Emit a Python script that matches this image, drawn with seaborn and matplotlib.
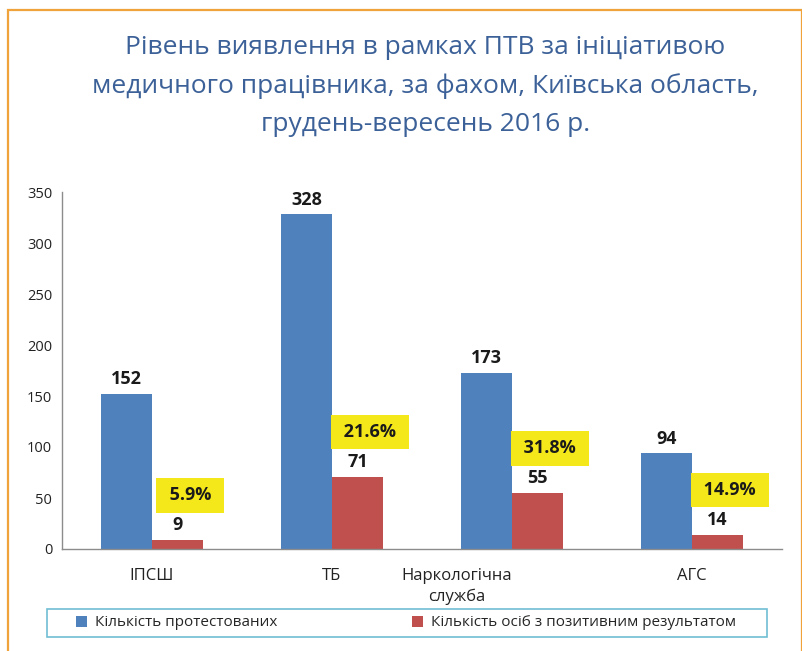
import matplotlib
matplotlib.use("Agg")
import matplotlib.pyplot as plt
import matplotlib.transforms as mtransforms
from matplotlib.patches import Rectangle
import pandas as pd
import seaborn as sns

# --- Data ---
categories = ["ІПСШ", "ТБ", "Наркологічна\nслужба", "АГС"]
tested = [152, 328, 173, 94]
positive = [9, 71, 55, 14]
series_names = ["Кількість протестованих", "Кількість осіб з позитивним результатом"]

TITLE = ("Рівень виявлення в рамках ПТВ за ініціативою\n"
         "медичного працівника, за фахом, Київська область,\n"
         "грудень-вересень 2016 р.")

BLUE = "#4f81bd"
RED = "#c0504d"
YELLOW = "#f5e81a"

sns.set_theme(style="white")
plt.rcParams["font.family"] = ["Open Sans", "DejaVu Sans"]

df = pd.DataFrame({
    "cat": categories * 2,
    "value": tested + positive,
    "series": [series_names[0]] * 4 + [series_names[1]] * 4,
})

fig = plt.figure(figsize=(8.03, 6.51), dpi=100)
ax = fig.add_axes([62 / 803, 1 - 549 / 651, 720 / 803, 357 / 651])

sns.barplot(data=df, x="cat", y="value", hue="series", order=categories,
            hue_order=series_names, palette=[BLUE, RED], width=0.567,
            gap=0, saturation=1, ax=ax, legend=True, edgecolor="none")

ax.set_xlim(-0.5, 3.5)
ax.set_ylim(0, 350)
ax.set_yticks(range(0, 351, 50))
ax.set_xlabel("")
ax.set_ylabel("")

for s in ["top", "right"]:
    ax.spines[s].set_visible(False)
for s in ["left", "bottom"]:
    ax.spines[s].set_color("#8c8c8c")
    ax.spines[s].set_linewidth(1.0)

ax.tick_params(axis="y", direction="out", length=4, color="#8c8c8c",
               labelsize=10.5, labelcolor="#222222", pad=3)
ax.tick_params(axis="x", which="major", length=0, labelsize=12,
               labelcolor="#222222", pad=14)
ax.set_xticks([i - 0.5 for i in range(len(categories) + 1)], minor=True)
ax.tick_params(axis="x", which="minor", direction="out", length=5,
               color="#8c8c8c")

# shift the wrapped label left like the original
lbl = ax.get_xticklabels()[2]
lbl.set_transform(lbl.get_transform() +
                  mtransforms.ScaledTranslation(-55 / 100, 0, fig.dpi_scale_trans))
lbl.set_linespacing(1.3)

for cont in ax.containers:
    ax.bar_label(cont, padding=4, fontsize=13, fontweight="bold",
                 color="#1a1a1a")

# percentage boxes above the red bars
red_bars = ax.containers[1]
for bar, t, p in zip(red_bars, tested, positive):
    x = bar.get_x() + bar.get_width() / 2
    ax.annotate(f" {p / t * 100:.1f}% ", xy=(x, p), xytext=(9, 32),
                textcoords="offset points", ha="center", va="center",
                fontsize=13, fontweight="bold", color="#1a1a1a",
                bbox=dict(boxstyle="square,pad=0.45", fc=YELLOW, ec="none"))

# legend
ax.get_legend().remove()
handles, labels = ax.get_legend_handles_labels()
leg_y = 1 - 623 / 651
leg = fig.legend(handles, labels, ncol=2, loc="center left",
                 bbox_to_anchor=(76 / 803, leg_y), fontsize=11, frameon=False,
                 handlelength=0.75, handleheight=0.75, handletextpad=0.5,
                 columnspacing=8.8, borderaxespad=0, borderpad=0)
fig.patches.append(Rectangle((47 / 803, 1 - 637 / 651), 720 / 803, 28 / 651,
                             transform=fig.transFigure, fill=False,
                             ec="#6fbfd4", lw=1.2))

# title
fig.text(0.53, 1 - 86 / 651, TITLE, ha="center", va="center",
         fontsize=19, color="#3c6198", linespacing=1.65)

# orange frame
fig.patches.append(Rectangle((8 / 803, -0.05), 794 / 803, 1.05 - 10 / 651,
                             transform=fig.transFigure, fill=False,
                             ec="#f0a33a", lw=1.6))

fig.savefig("out.png", dpi=100)
